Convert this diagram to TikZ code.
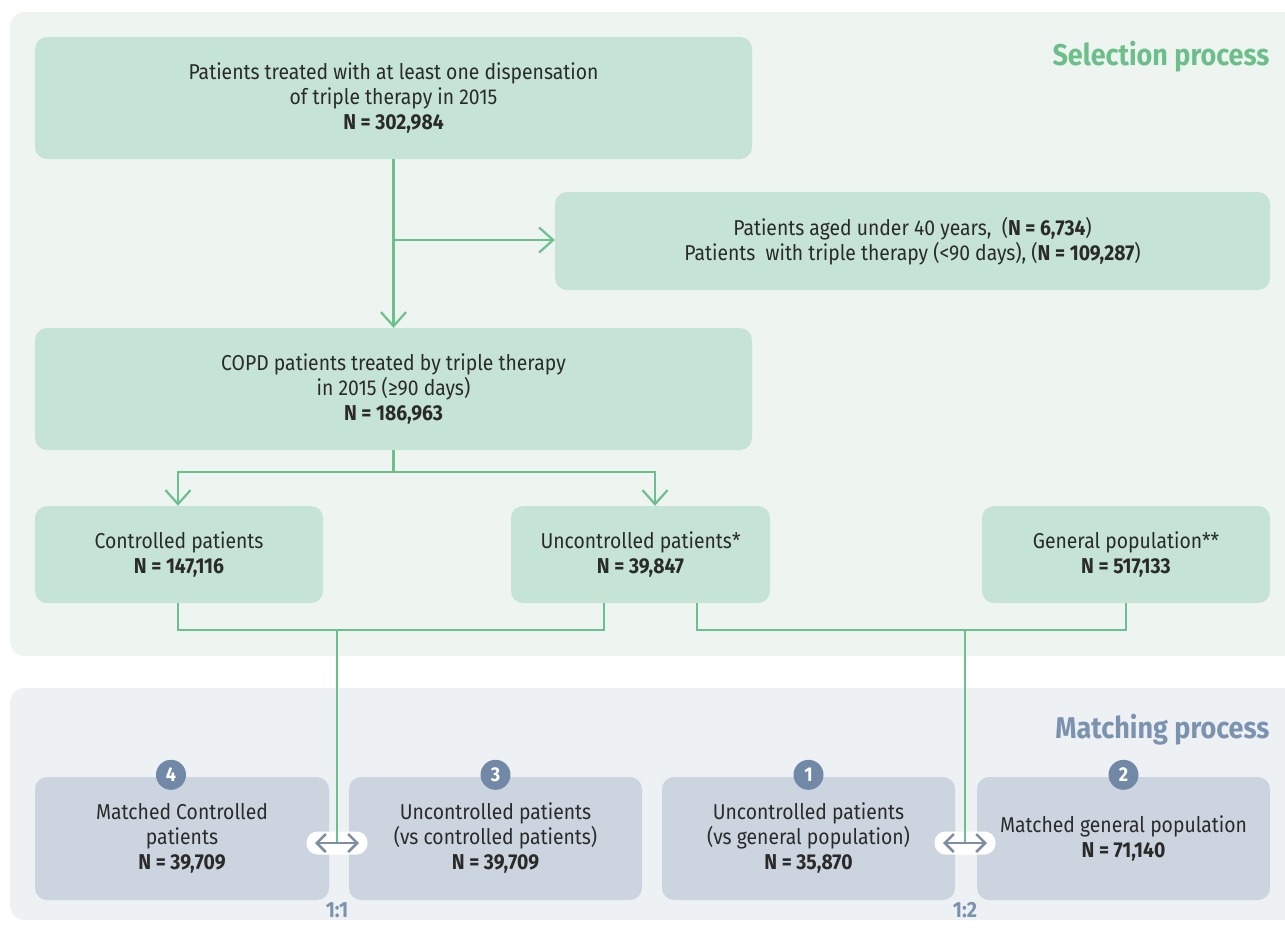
\documentclass[tikz,border=0pt]{standalone}
\usepackage{fontspec}
\setmainfont{Fira Sans}[FakeStretch=0.9]
\usetikzlibrary{arrows.meta}
\definecolor{selbg}{HTML}{EEF5F0}
\definecolor{matbg}{HTML}{EDF1F4}
\definecolor{boxgreen}{HTML}{C6E4D5}
\definecolor{boxgray}{HTML}{CCD5DF}
\definecolor{linegreen}{HTML}{6CC08D}
\definecolor{titlegreen}{HTML}{6CBF8A}
\definecolor{titleslate}{HTML}{7C93AF}
\definecolor{circblue}{HTML}{7189A6}
\definecolor{arrowgray}{HTML}{7E8FA3}
\definecolor{textdark}{HTML}{2A2A2A}
\tikzset{
  bodyfont/.style={font=\fontsize{21.5}{25}\selectfont},
  gbox/.style={fill=boxgreen, rounded corners=12pt, align=center, text=textdark, inner sep=0pt, bodyfont},
  mbox/.style={fill=boxgray, rounded corners=12pt, align=center, text=textdark, inner sep=0pt, bodyfont},
  gline/.style={draw=linegreen, line width=2.2pt},
  gtip/.style={-{Straight Barb[length=14pt,width=25pt,line width=2.2pt]}},
  pill/.style={fill=white, rounded corners=11pt, minimum width=61pt, minimum height=23pt, inner sep=0pt},
  twoway/.style={draw=arrowgray, line width=2.5pt, {Straight Barb[length=9pt,width=18pt]}-{Straight Barb[length=9pt,width=18pt]}},
  numc/.style={circle, fill=circblue, text=white, inner sep=0pt, minimum size=30pt, font=\bfseries\fontsize{20}{20}\selectfont},
  ratio/.style={text=titleslate, font=\bfseries\fontsize{22}{22}\selectfont},
  title/.style={anchor=east, font=\bfseries\fontsize{30}{32}\selectfont}
}
\begin{document}
\begin{tikzpicture}[x=1pt,y=-1pt]
\useasboundingbox (0,0) rectangle (1285,927);
\fill[white] (0,0) rectangle (1285,927);
% backgrounds
\fill[selbg, rounded corners=15pt] (10,12) rectangle (1300,656);
\fill[matbg, rounded corners=15pt] (10,688) rectangle (1300,920);
\node[title, text=titlegreen] (seltitle) at (1273,57) {Selection process};
\node[title, text=titleslate] (mattitle) at (1273,730) {Matching process};
% selection boxes
\node[gbox, minimum width=717pt, minimum height=122pt] (top) at (393.5,98)
  {Patients treated with at least one dispensation\\of triple therapy in 2015\\\textbf{N = 302,984}};
\node[gbox, minimum width=715pt, minimum height=98pt] (excl) at (912.5,241)
  {Patients aged under 40 years,\ \ (\textbf{N = 6,734})\\Patients\ \ with triple therapy (<90 days), (\textbf{N = 109,287})};
\node[gbox, minimum width=717pt, minimum height=122pt] (copd) at (393.5,389)
  {COPD patients treated by triple therapy\\in 2015 (≥90 days)\\\textbf{N = 186,963}};
\node[gbox, minimum width=288pt, minimum height=97pt] (ctrl) at (179,554.5)
  {Controlled patients\\\textbf{N = 147,116}};
\node[gbox, minimum width=259pt, minimum height=97pt] (unc) at (640.5,554.5)
  {Uncontrolled patients*\\\textbf{N = 39,847}};
\node[gbox, minimum width=288pt, minimum height=97pt] (gen) at (1126,554.5)
  {General population**\\\textbf{N = 517,133}};
% matching boxes
\node[mbox, minimum width=294pt, minimum height=123pt] (m4) at (182,838.5)
  {Matched Controlled\\patients\\\textbf{N = 39,709}};
\node[mbox, minimum width=293pt, minimum height=123pt] (m3) at (495.5,838.5)
  {Uncontrolled patients\\(vs controlled patients)\\\textbf{N = 39,709}};
\node[mbox, minimum width=293pt, minimum height=123pt] (m1) at (808.5,838.5)
  {Uncontrolled patients\\(vs general population)\\\textbf{N = 35,870}};
\node[mbox, minimum width=293pt, minimum height=123pt] (m2) at (1123.5,838.5)
  {Matched general population\\\textbf{N = 71,140}};
\node[numc] (c4) at ([xshift=-11pt,yshift=2pt]m4.north) {4};
\node[numc] (c3) at ([yshift=2pt]m3.north) {3};
\node[numc] (c1) at ([yshift=2pt]m1.north) {1};
\node[numc] (c2) at ([yshift=2pt]m2.north) {2};
% connectors in selection
\coordinate (br) at (393.5,240);
\draw[gline, gtip] (top.south) -- (copd.north);
\draw[gline, gtip] (br) -- (excl.west |- br);
\coordinate (j1) at (393.5,472);
\draw[gline] (copd.south) -- (j1);
\draw[gline, gtip] (j1) -| ([xshift=-1pt]ctrl.north);
\draw[gline, gtip] (j1) -| ([xshift=14.5pt]unc.north);
% joins to matching
\node[pill] (p1) at (337,843) {};
\node[pill] (p2) at (965,843) {};
\coordinate (k1) at (337,630);
\coordinate (k2) at (965,630);
\draw[gline, line join=miter] ([xshift=-1pt]ctrl.south) |- (k1) -| ([xshift=-36.5pt]unc.south);
\draw[gline, line join=miter] ([xshift=56.5pt]unc.south) |- (k2) -| (gen.south);
\draw[gline] (k1) -- (p1.center);
\draw[gline] (k2) -- (p2.center);
\draw[twoway] ([xshift=-22pt]p1.center) -- ([xshift=22pt]p1.center);
\draw[twoway] ([xshift=-22pt]p2.center) -- ([xshift=22pt]p2.center);
\node[ratio] (r1) at (337,910) {1:1};
\node[ratio] (r2) at (965,910) {1:2};
\end{tikzpicture}
\end{document}
